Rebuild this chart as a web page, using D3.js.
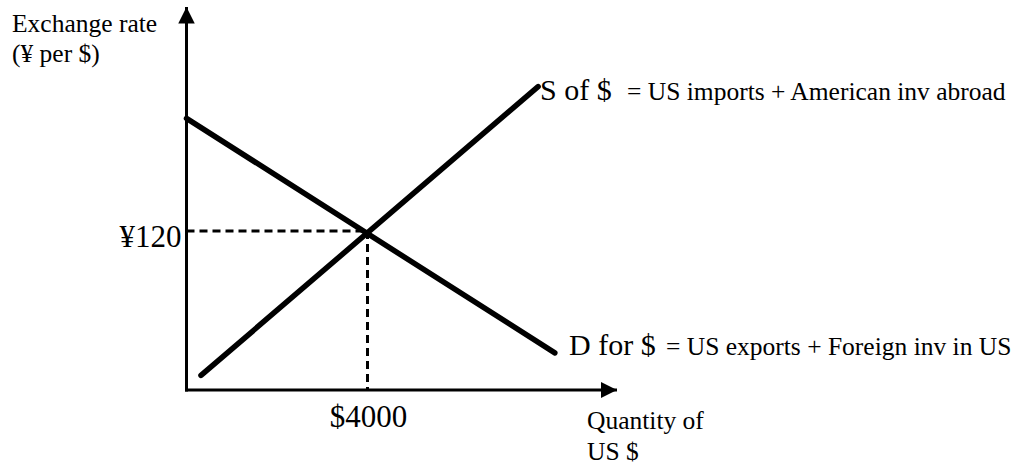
<!DOCTYPE html>
<html>
<head>
<meta charset="utf-8">
<script src="https://cdn.jsdelivr.net/npm/d3@7"></script>
<style>
    body { margin: 0; background: #fff; }
    text { font-family: "Liberation Serif", "Times New Roman", serif; fill: #000; }
</style>
</head>
<body>
<div id="chart"></div>
<script>
// Supply and demand for dollars (quantity of US $, yen per $)
const supplyPoints = [{ q: 320, p: 11 }, { q: 7770, p: 229 }];
const demandPoints = [{ q: 0, p: 205 }, { q: 8140, p: 28 }];
const equilibrium = { q: 4000, p: 120 };
const priceLabel = "¥120";
const quantityLabel = "$4000";
const yAxisTitle = ["Exchange rate", "(¥ per $)"];
const xAxisTitle = ["Quantity of", "US $"];
const supplyLabel = ["S of $", "= US imports + American inv abroad"];
const demandLabel = ["D for $", "= US exports + Foreign inv in US"];

document.addEventListener('DOMContentLoaded', () => {
    const width = 1018, height = 466;
    const origin = { x: 186.5, y: 390 };

    const svg = d3.select("#chart")
        .append("svg")
        .attr("width", width)
        .attr("height", height);

    const x = d3.scaleLinear()
        .domain([0, 10000])
        .range([origin.x, origin.x + 452.5]);

    const y = d3.scaleLinear()
        .domain([0, 300])
        .range([origin.y, origin.y - 397.5]);

    // arrow heads
    const defs = svg.append("defs");
    defs.append("marker")
        .attr("id", "arrow")
        .attr("viewBox", "0 0 10 10")
        .attr("refX", 10)
        .attr("refY", 5)
        .attr("markerWidth", 5.5)
        .attr("markerHeight", 5.5)
        .attr("markerUnits", "strokeWidth")
        .attr("orient", "auto")
        .append("path")
        .attr("d", "M0,0 L10,5 L0,10 Z")
        .attr("fill", "#000");

    // axes
    svg.append("line")
        .attr("x1", origin.x).attr("y1", origin.y + 1.5)
        .attr("x2", origin.x).attr("y2", 7)
        .attr("stroke", "#000").attr("stroke-width", 3)
        .attr("marker-end", "url(#arrow)");

    svg.append("line")
        .attr("x1", origin.x - 1.5).attr("y1", origin.y)
        .attr("x2", 617).attr("y2", origin.y)
        .attr("stroke", "#000").attr("stroke-width", 3)
        .attr("marker-end", "url(#arrow)");

    // equilibrium guides
    svg.append("line")
        .attr("x1", x(0)).attr("y1", y(equilibrium.p))
        .attr("x2", x(equilibrium.q)).attr("y2", y(equilibrium.p))
        .attr("stroke", "#000").attr("stroke-width", 3)
        .attr("stroke-dasharray", "8,5");

    svg.append("line")
        .attr("x1", x(equilibrium.q)).attr("y1", y(equilibrium.p))
        .attr("x2", x(equilibrium.q)).attr("y2", y(0))
        .attr("stroke", "#000").attr("stroke-width", 3)
        .attr("stroke-dasharray", "8,5");

    const line = d3.line()
        .x(d => x(d.q))
        .y(d => y(d.p));

    svg.selectAll(".curve")
        .data([demandPoints, supplyPoints])
        .enter()
        .append("path")
        .attr("class", "curve")
        .attr("d", line)
        .attr("fill", "none")
        .attr("stroke", "#000")
        .attr("stroke-width", 5.5)
        .attr("stroke-linecap", "round");

    // y axis title
    svg.append("text")
        .attr("x", 12).attr("y", 32)
        .style("font-size", "25.5px")
        .text(yAxisTitle[0]);
    svg.append("text")
        .attr("x", 12).attr("y", 62)
        .style("font-size", "25.5px")
        .text(yAxisTitle[1]);

    // x axis title
    svg.append("text")
        .attr("x", 587).attr("y", 429)
        .style("font-size", "25.5px")
        .text(xAxisTitle[0]);
    svg.append("text")
        .attr("x", 587).attr("y", 460)
        .style("font-size", "25.5px")
        .text(xAxisTitle[1]);

    // equilibrium labels
    svg.append("text")
        .attr("x", x(0) - 5).attr("y", y(equilibrium.p) + 16)
        .attr("text-anchor", "end")
        .style("font-size", "31px")
        .text(priceLabel);

    svg.append("text")
        .attr("x", x(equilibrium.q) + 1).attr("y", 427)
        .attr("text-anchor", "middle")
        .style("font-size", "31px")
        .text(quantityLabel);

    // curve labels
    const s = svg.append("text")
        .attr("x", 540).attr("y", 100);
    s.append("tspan").style("font-size", "30px").text(supplyLabel[0]);
    s.append("tspan").attr("x", 627).style("font-size", "25.5px").text(supplyLabel[1]);

    const dl = svg.append("text")
        .attr("x", 569).attr("y", 355);
    dl.append("tspan").style("font-size", "30px").text(demandLabel[0]);
    dl.append("tspan").attr("x", 666).style("font-size", "25.5px").text(demandLabel[1]);
});
</script>
</body>
</html>
